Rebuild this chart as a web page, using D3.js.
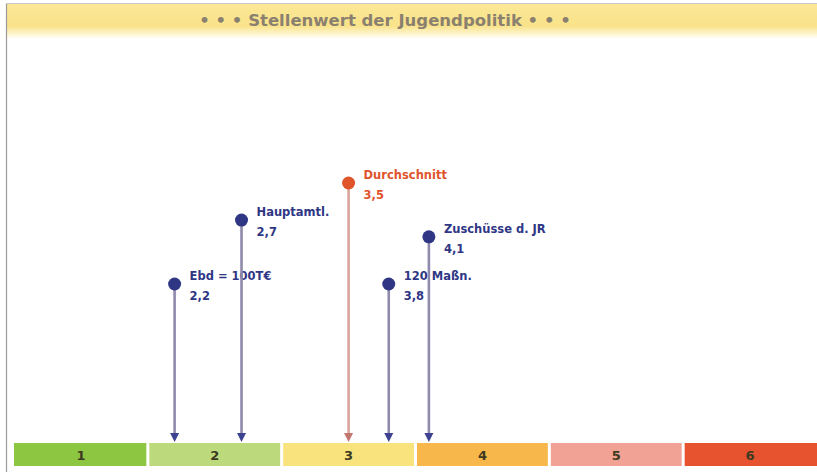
<!DOCTYPE html>
<html><head><meta charset="utf-8">
<script src="https://cdn.jsdelivr.net/npm/d3@7"></script>
<style>html,body{margin:0;padding:0;background:#fff;overflow:hidden}</style>
</head><body>
<svg id="c" width="817" height="472"></svg>
<script>
const title = "• • • Stellenwert der Jugendpolitik • • •";
const grades = [1, 2, 3, 4, 5, 6];
const gradeLabels = ["1", "2", "3", "4", "5", "6"];
const gradeColors = ["#8dc641", "#bcd97c", "#f9e37c", "#f8b74a", "#f2a195", "#e8532f"];
const itemNames = ["Ebd = 100T€", "Hauptamtl.", "Durchschnitt", "120 Maßn.", "Zuschüsse d. JR"];
const itemValues = [2.2, 2.7, 3.5, 3.8, 4.1];
const itemValueLabels = ["2,2", "2,7", "3,5", "3,8", "4,1"];
const itemStagger = [0, 1.9, 3, 0, 1.4];
const itemIsAverage = [false, false, true, false, false];

const W = 817, H = 472;
const svg = d3.select("#c");
const defs = svg.append("defs");

const tg = defs.append("linearGradient").attr("id", "tg").attr("x1", 0).attr("x2", 0).attr("y1", 0).attr("y2", 1);
tg.append("stop").attr("offset", "0%").attr("stop-color", "#fbe796");
tg.append("stop").attr("offset", "65%").attr("stop-color", "#f9e38a");
tg.append("stop").attr("offset", "100%").attr("stop-color", "#fffdf2");

svg.append("rect").attr("x", 7).attr("y", 4).attr("width", W - 7).attr("height", 34).attr("fill", "url(#tg)");
svg.append("line").attr("x1", 6.5).attr("x2", 6.5).attr("y1", 3).attr("y2", H).attr("stroke", "#9a9a9a").attr("stroke-width", 1.2);
svg.append("line").attr("x1", 6).attr("x2", W).attr("y1", 3.5).attr("y2", 3.5).attr("stroke", "#c8c8c8").attr("stroke-width", 1);

svg.append("text").attr("x", 385).attr("y", 26).attr("text-anchor", "middle")
  .attr("font-family", "DejaVu Sans, sans-serif").attr("font-size", 16.5).attr("font-weight", "bold")
  .attr("fill", "#8a8070").text(title);

const x = d3.scaleLinear().domain([1, 7]).range([14, 817]);
const y = d3.scaleLinear().domain([0, 3]).range([284, 183]);
const barTop = 443, barH = 23;

const g = svg.append("g");
g.selectAll("rect").data(grades).join("rect")
  .attr("x", d => x(d) + (d === 1 ? 0 : 1.5))
  .attr("width", d => x(d + 1) - x(d) - (d === 1 ? 1.5 : 3) + (d === 6 ? 1.5 : 0))
  .attr("y", barTop).attr("height", barH)
  .attr("fill", (d, i) => gradeColors[i]);
g.selectAll("text").data(grades).join("text")
  .attr("x", d => x(d + 0.5)).attr("y", barTop + barH / 2 + 5)
  .attr("text-anchor", "middle").attr("font-family", "DejaVu Sans, sans-serif")
  .attr("font-size", 13).attr("font-weight", "bold").attr("fill", "#3d3a22")
  .text((d, i) => gradeLabels[i]);

const items = itemNames.map((n, i) => ({ name: n, v: itemValues[i], lab: itemValueLabels[i], s: itemStagger[i], avg: itemIsAverage[i] }));
const navy = "#2f3785", red = "#e0542c";
const ig = svg.append("g");
items.forEach(d => {
  const cx = x(d.v), cy = y(d.s);
  const stem = d.avg ? "#d9a59b" : "#8f8aab";
  const head = d.avg ? "#c2776e" : "#3d4390";
  ig.append("line").attr("x1", cx).attr("x2", cx).attr("y1", cy).attr("y2", barTop - 8)
    .attr("stroke", stem).attr("stroke-width", 2.6);
  ig.append("path").attr("d", `M${cx - 4.5},${barTop - 10} L${cx + 4.5},${barTop - 10} L${cx},${barTop - 1} Z`).attr("fill", head);
  ig.append("circle").attr("cx", cx).attr("cy", cy).attr("r", 6.5).attr("fill", d.avg ? red : navy);
  const tc = d.avg ? red : navy;
  ig.append("text").attr("x", cx + 15).attr("y", cy - 4)
    .attr("font-family", "DejaVu Sans, sans-serif").attr("font-size", 11.5).attr("font-weight", "bold")
    .attr("fill", tc).text(d.name);
  ig.append("text").attr("x", cx + 15).attr("y", cy + 16)
    .attr("font-family", "DejaVu Sans, sans-serif").attr("font-size", 11.5).attr("font-weight", "bold")
    .attr("fill", tc).text(d.lab);
});
</script>
</body></html>
